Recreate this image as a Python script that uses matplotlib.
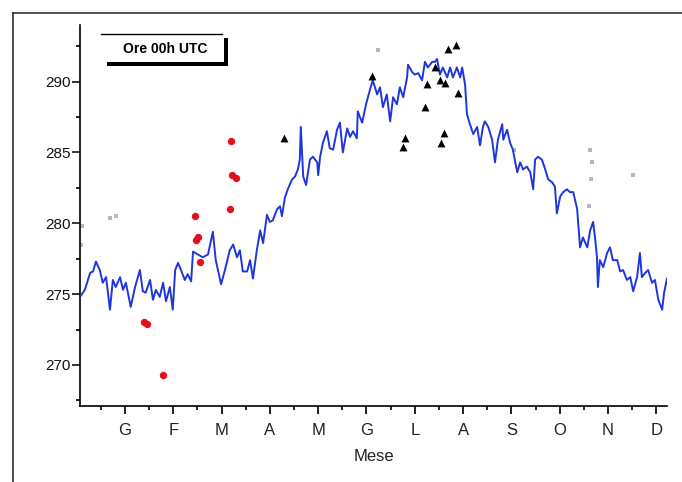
import matplotlib.pyplot as plt
from matplotlib.patches import Rectangle
from matplotlib.lines import Line2D

plt.rcParams['font.family'] = ['Liberation Sans', 'DejaVu Sans']

# month position (1 = G ... 12 = D) and temperature (K)
mese = [0.09, 0.17, 0.28, 0.34, 0.40, 0.48, 0.54, 0.61, 0.69, 0.75, 0.81, 0.90, 0.96,
        1.02, 1.12, 1.21, 1.31, 1.37, 1.43, 1.52, 1.58, 1.64, 1.72, 1.79, 1.85, 1.93, 1.99,
        2.04, 2.10, 2.16, 2.24, 2.30, 2.37, 2.41, 2.51, 2.61, 2.72, 2.82, 2.88, 2.99,
        3.07, 3.17, 3.24, 3.32, 3.38, 3.44, 3.53, 3.59, 3.65, 3.73, 3.80, 3.86, 3.94,
        4.00, 4.06, 4.15, 4.21, 4.25, 4.31, 4.37, 4.46, 4.52, 4.58, 4.62, 4.64, 4.69,
        4.75, 4.79, 4.83, 4.89, 4.98, 5.00, 5.04, 5.10, 5.18, 5.24, 5.31, 5.39, 5.45,
        5.51, 5.60, 5.66, 5.72, 5.80, 5.82, 5.91, 5.99, 6.07, 6.13, 6.22, 6.28, 6.34,
        6.42, 6.49, 6.55, 6.63, 6.69, 6.76, 6.84, 6.86, 6.94, 7.00, 7.07, 7.15, 7.21,
        7.27, 7.36, 7.42, 7.46, 7.52, 7.58, 7.67, 7.73, 7.79, 7.87, 7.94, 7.98, 8.04,
        8.08, 8.14, 8.21, 8.29, 8.35, 8.41, 8.45, 8.52, 8.60, 8.66, 8.72, 8.81, 8.83,
        8.91, 8.97, 9.03, 9.12, 9.18, 9.24, 9.32, 9.39, 9.45, 9.49, 9.55, 9.63, 9.70,
        9.76, 9.84, 9.90, 9.94, 10.01, 10.07, 10.15, 10.21, 10.28, 10.36, 10.42, 10.48,
        10.57, 10.63, 10.69, 10.73, 10.77, 10.79, 10.83, 10.90, 10.98, 11.04, 11.10,
        11.19, 11.25, 11.31, 11.39, 11.46, 11.52, 11.60, 11.66, 11.70, 11.77, 11.83,
        11.91, 11.97, 12.04, 12.12, 12.16, 12.22]
temp = [274.9, 275.3, 276.5, 276.6, 277.3, 276.7, 275.8, 276.2, 273.9, 276.0, 275.5, 276.2, 275.3,
        275.8, 274.1, 275.5, 276.7, 275.2, 275.1, 276.0, 274.6, 275.3, 274.8, 275.8, 274.5, 275.5, 273.9,
        276.7, 277.2, 276.7, 276.0, 276.4, 275.9, 278.0, 277.8, 277.6, 277.8, 279.4, 277.4, 275.7,
        276.7, 278.1, 278.5, 277.6, 278.1, 276.6, 276.6, 277.4, 276.1, 278.1, 279.5, 278.6, 280.6,
        280.1, 280.2, 281.0, 281.2, 280.5, 281.8, 282.4, 283.1, 283.3, 283.8, 284.5, 286.8, 283.3,
        282.7, 283.6, 284.5, 284.7, 284.3, 283.4, 284.7, 285.7, 286.5, 285.3, 285.2, 286.6, 287.1,
        285.0, 286.7, 286.1, 286.5, 286.0, 287.9, 287.1, 288.4, 289.4, 290.1, 289.1, 289.6, 288.2,
        289.1, 287.2, 288.9, 288.4, 289.6, 288.9, 290.3, 291.2, 290.7, 290.5, 290.6, 290.1, 291.4,
        291.0, 291.4, 291.4, 291.6, 290.5, 291.0, 290.3, 291.0, 290.3, 291.0, 290.3, 291.0, 289.8,
        287.7, 287.0, 286.3, 286.8, 285.5, 286.8, 287.2, 286.8, 285.9, 284.3, 285.9, 287.0, 285.9,
        286.6, 285.7, 285.2, 283.6, 284.3, 283.8, 284.0, 283.6, 282.4, 284.5, 284.7, 284.5, 283.8,
        283.1, 282.9, 282.6, 280.7, 281.9, 282.2, 282.4, 282.2, 282.2, 281.0, 278.3, 279.0,
        278.3, 279.5, 280.1, 279.0, 277.6, 275.5, 277.4, 276.9, 277.9, 278.3, 277.4,
        277.4, 276.6, 276.7, 276.0, 276.2, 275.2, 276.2, 277.9, 276.2, 276.5, 276.7,
        275.8, 276.0, 274.6, 273.9, 275.1, 276.1]

red_x = [1.39, 1.45, 1.79, 2.45, 2.47, 2.51, 2.55, 3.19, 3.21, 3.30, 3.17]
red_y = [273.0, 272.9, 269.3, 280.5, 278.8, 279.0, 277.3, 285.8, 283.4, 283.2, 281.0]

tri_x = [4.29, 6.11, 6.80, 6.76, 7.25, 7.21, 7.42, 7.52, 7.63, 7.60, 7.54, 7.69, 7.85, 7.89]
tri_y = [286.0, 290.4, 286.0, 285.4, 289.8, 288.2, 291.0, 290.1, 289.9, 286.4, 285.7, 292.3, 292.6, 289.2]

gray_x = [0.09, 0.11, 0.69, 0.81, 6.24, 9.05, 10.61, 10.63, 10.65, 10.67, 11.52]
gray_y = [278.5, 279.8, 280.4, 280.5, 292.2, 285.2, 281.2, 285.2, 283.1, 284.3, 283.4]

mesi = ['G', 'F', 'M', 'A', 'M', 'G', 'L', 'A', 'S', 'O', 'N', 'D']

fig = plt.figure(figsize=(6.82, 4.82), dpi=100)
ax = fig.add_axes([80 / 682, 1 - 406 / 482, 587 / 682, 381 / 482])

ax.plot(mese, temp, color='#1e36dc', lw=1.4, zorder=3)
ax.scatter(gray_x, gray_y, marker='s', s=12, color='#b8b8b8', zorder=2, linewidths=0)
ax.scatter(red_x, red_y, marker='o', s=28, color='#e3101c', zorder=4, linewidths=0)
ax.scatter(tri_x, tri_y, marker='^', s=32, color='black', zorder=5, linewidths=0)

ax.set_xlim(0.07, 12.22)
ax.set_ylim(267.1, 294.0)
ax.set_xticks(range(1, 13))
ax.set_xticklabels(mesi, fontsize=12, color='#222222')
ax.set_xticks([m + 0.5 for m in range(0, 12)], minor=True)
ax.set_yticks([270, 275, 280, 285, 290])
ax.set_yticks([267.5, 272.5, 277.5, 282.5, 287.5, 292.5], minor=True)
ax.tick_params(axis='y', labelsize=11, colors='#111111', length=6, width=1.2, pad=1)
ax.tick_params(axis='x', length=6, width=1.2, pad=6)
ax.tick_params(which='minor', length=3, width=1.2)
ax.set_xlabel('Mese', fontsize=12, color='#222222', labelpad=8)

for s in ['top', 'right']:
    ax.spines[s].set_visible(False)
for s in ['left', 'bottom']:
    ax.spines[s].set_linewidth(1.2)

# label box with shadow
ax.add_patch(Rectangle((0.046, 0.892), 0.206, 0.075, transform=ax.transAxes,
                       facecolor='black', edgecolor='none', zorder=6, clip_on=False))
ax.add_patch(Rectangle((0.040, 0.902), 0.206, 0.075, transform=ax.transAxes,
                       facecolor='white', edgecolor='none', zorder=7, clip_on=False))
ax.add_line(Line2D([0.035, 0.242], [0.977, 0.977], transform=ax.transAxes,
                   color='black', lw=1, zorder=8))
ax.text(0.145, 0.938, 'Ore 00h UTC', transform=ax.transAxes, ha='center', va='center',
        fontsize=10, fontweight='bold', zorder=9)

# outer frame
fig.add_artist(Line2D([13 / 682, 13 / 682], [0, 1 - 13 / 482], color='#333333', lw=1.2))
fig.add_artist(Line2D([13 / 682, 1], [1 - 13 / 482, 1 - 13 / 482], color='#333333', lw=1.2))

plt.savefig('out.png', dpi=100)
